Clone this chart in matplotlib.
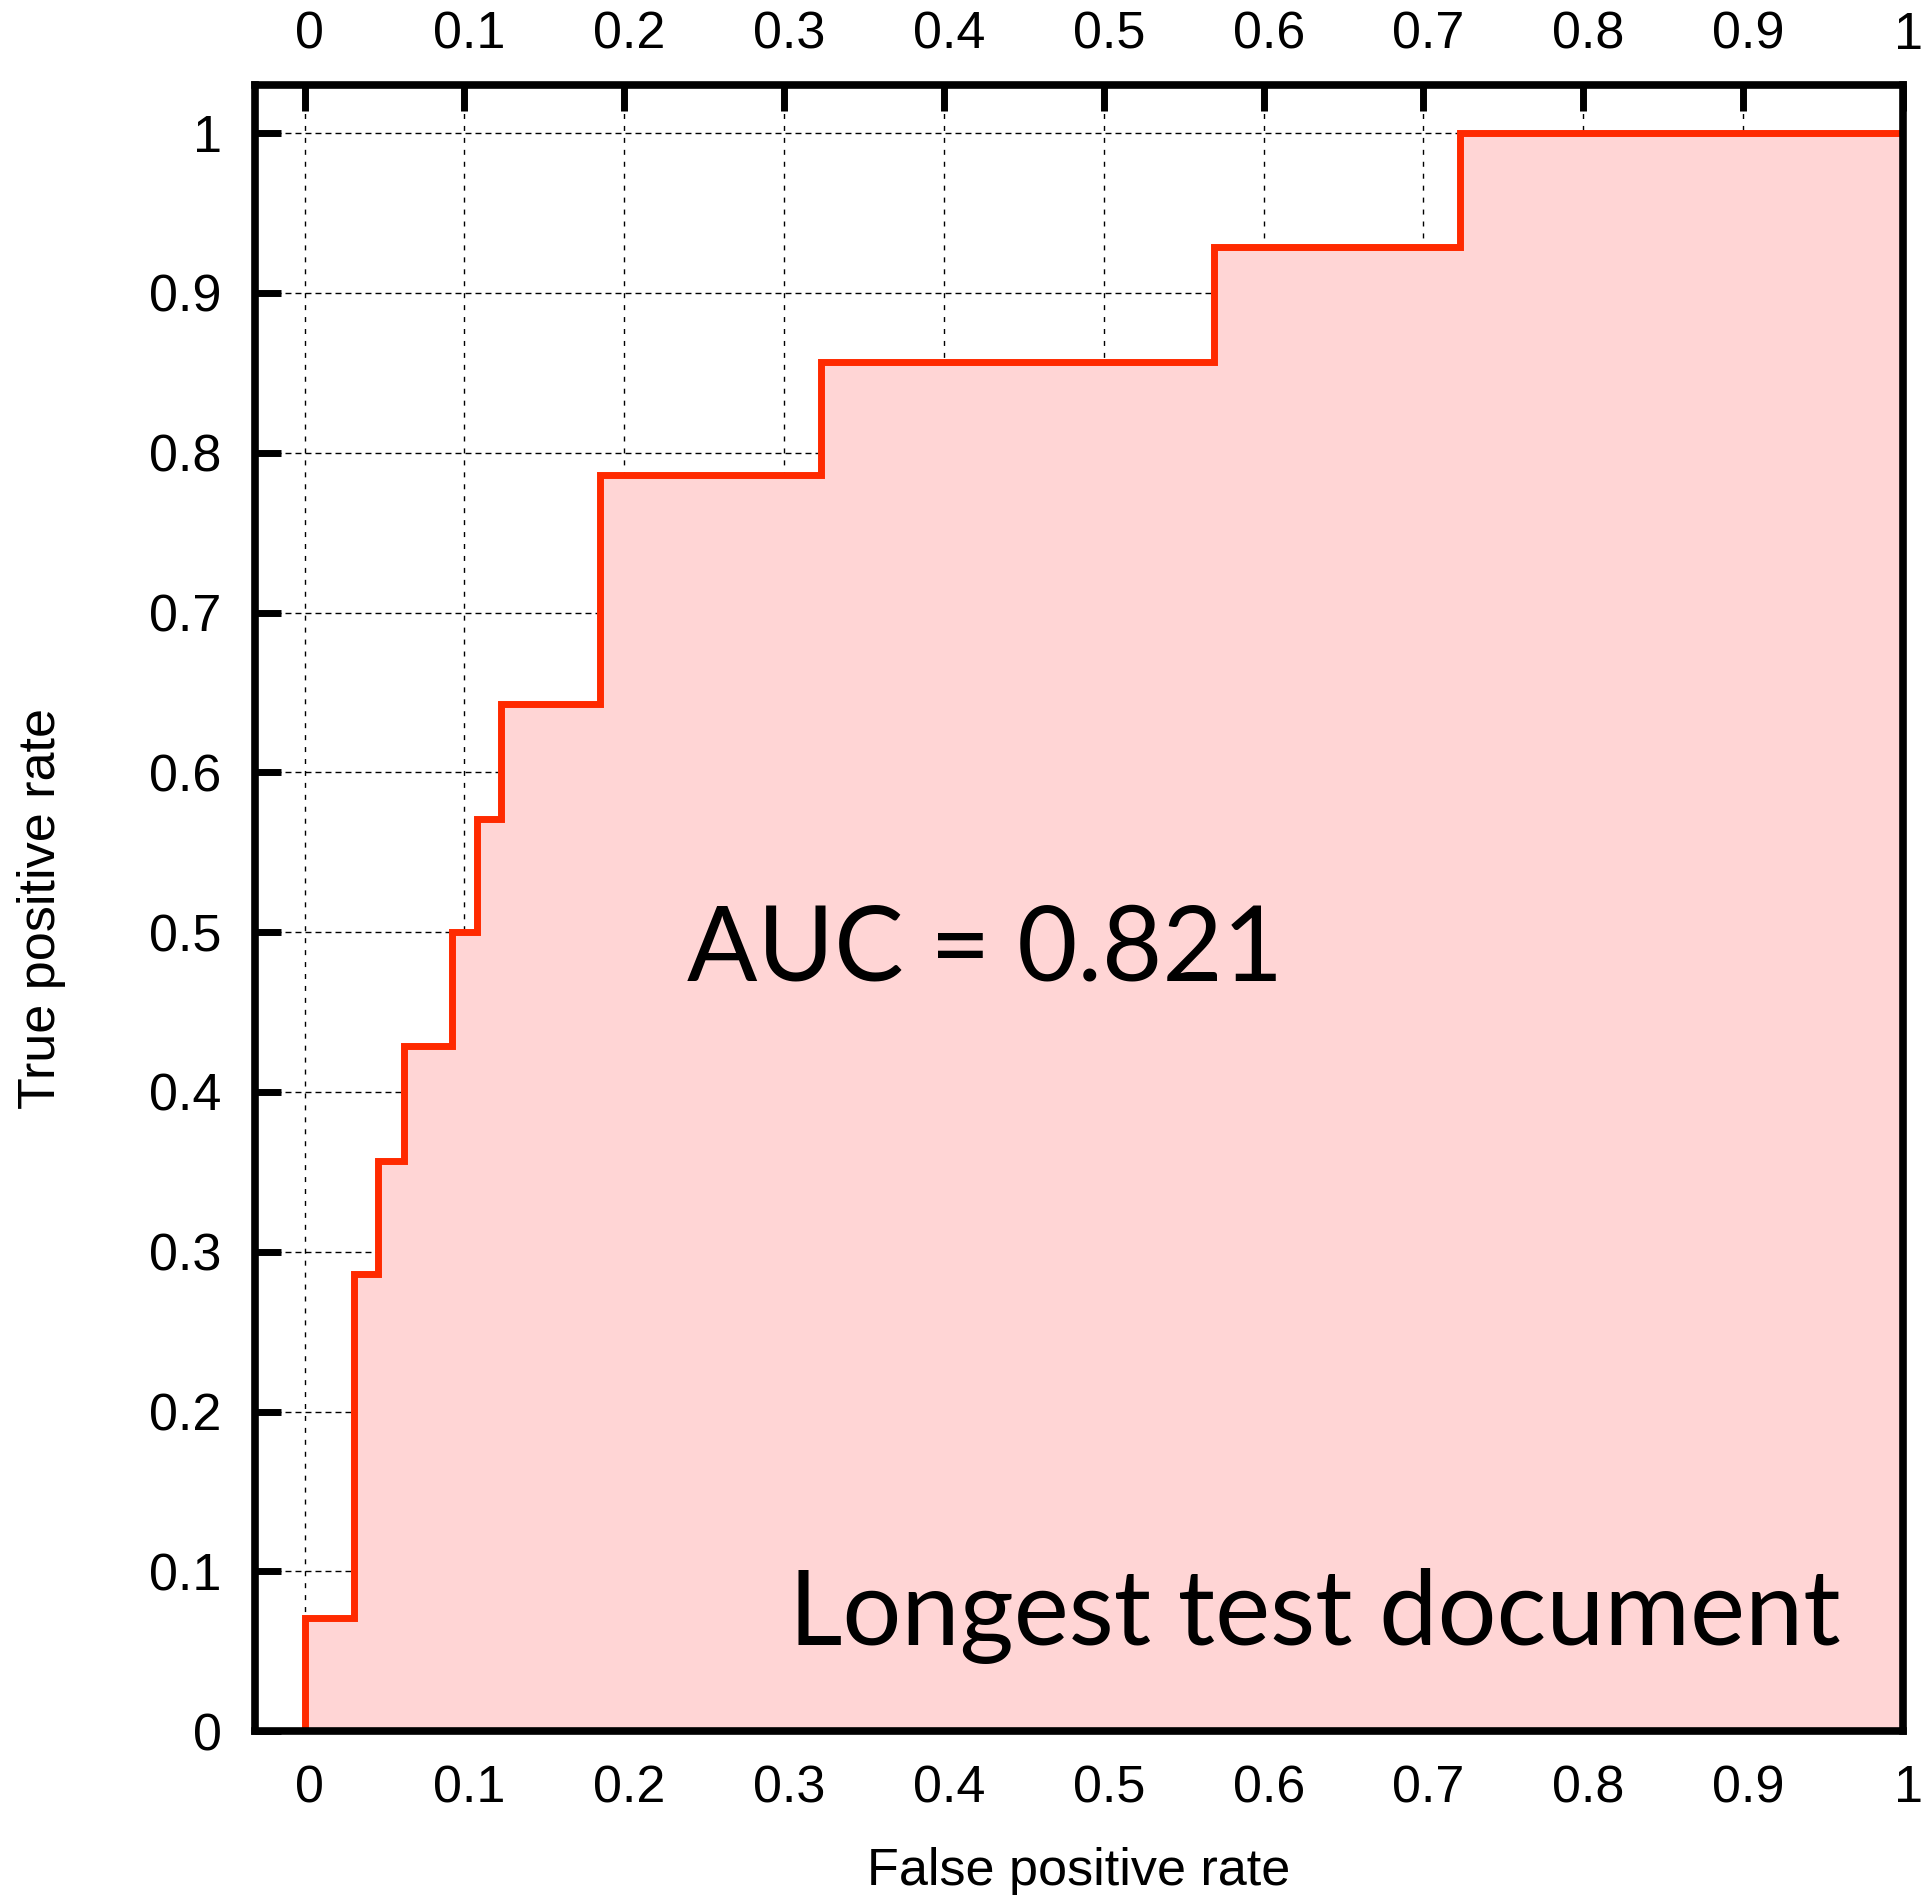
import matplotlib
matplotlib.use("Agg")
import matplotlib.pyplot as plt
from matplotlib.transforms import ScaledTranslation

# ROC curve: each TPR level starts at the matching FPR value
fpr = [0.0, 0.031, 0.046, 0.062, 0.092, 0.108, 0.123, 0.185, 0.323, 0.569, 0.723]
tpr = [0.071, 0.286, 0.357, 0.429, 0.500, 0.571, 0.643, 0.786, 0.857, 0.929, 1.0]
auc_text = "AUC = 0.821"
title_text = "Longest test document"
tick_vals = [0, 0.1, 0.2, 0.3, 0.4, 0.5, 0.6, 0.7, 0.8, 0.9, 1]
tick_labels = ["0", "0.1", "0.2", "0.3", "0.4", "0.5", "0.6", "0.7", "0.8", "0.9", "1"]

x = [0.0] + fpr + [1.0]
y = [0.0] + tpr + [1.0]

plt.rcParams["font.family"] = ["Liberation Sans", "DejaVu Sans"]

fig = plt.figure(figsize=(19.32, 18.95), dpi=100)
ax = fig.add_axes([0.132, 0.0865, 0.853, 0.8685])

ax.fill_between(x, y, 0, step="post", color="#ffd5d5", linewidth=0, zorder=1)
ax.step(x, y, where="post", color="#ff2a00", linewidth=5, zorder=3,
        solid_joinstyle="miter")

ax.set_xlim(-0.031, 1.0)
ax.set_ylim(0.0, 1.03)

ax.set_xticks(tick_vals)
ax.set_xticklabels(tick_labels)
ax.set_yticks(tick_vals)
ax.set_yticklabels(tick_labels)

ax.set_axisbelow(True)
ax.xaxis.grid(True, color="black", linewidth=1.0, linestyle=(0, (3.6, 5.0)))
ax.yaxis.grid(True, color="black", linewidth=1.0, linestyle=(0, (4.3, 2.9)))

for sp in ax.spines.values():
    sp.set_linewidth(5.5)
    sp.set_zorder(5)

ax.tick_params(axis="x", direction="in", top=True, bottom=False,
               labeltop=True, labelbottom=True, length=19, width=5,
               pad=24, labelsize=37.5)
ax.tick_params(axis="y", direction="in", left=True, right=False,
               length=19, width=5, pad=24, labelsize=37.5)

# nudge x tick labels a little right, and the top row closer to the frame
for tick in ax.xaxis.get_major_ticks():
    tick.label1.set_transform(tick.label1.get_transform()
                              + ScaledTranslation(0.05, 0, fig.dpi_scale_trans))
    tick.label2.set_transform(tick.label2.get_transform()
                              + ScaledTranslation(0.05, -0.08, fig.dpi_scale_trans))

ax.set_xlabel("False positive rate", fontsize=37.5, labelpad=24)
ax.set_ylabel("True positive rate", fontsize=37.5, labelpad=60)

ax.text(0.239, 0.47, auc_text, fontsize=75, family=["Lato", "DejaVu Sans"],
        ha="left", va="baseline", zorder=4)
ax.text(0.961, 0.054, title_text, fontsize=75, family=["Lato", "DejaVu Sans"],
        ha="right", va="baseline", zorder=4)

fig.savefig("out.png", dpi=100)
